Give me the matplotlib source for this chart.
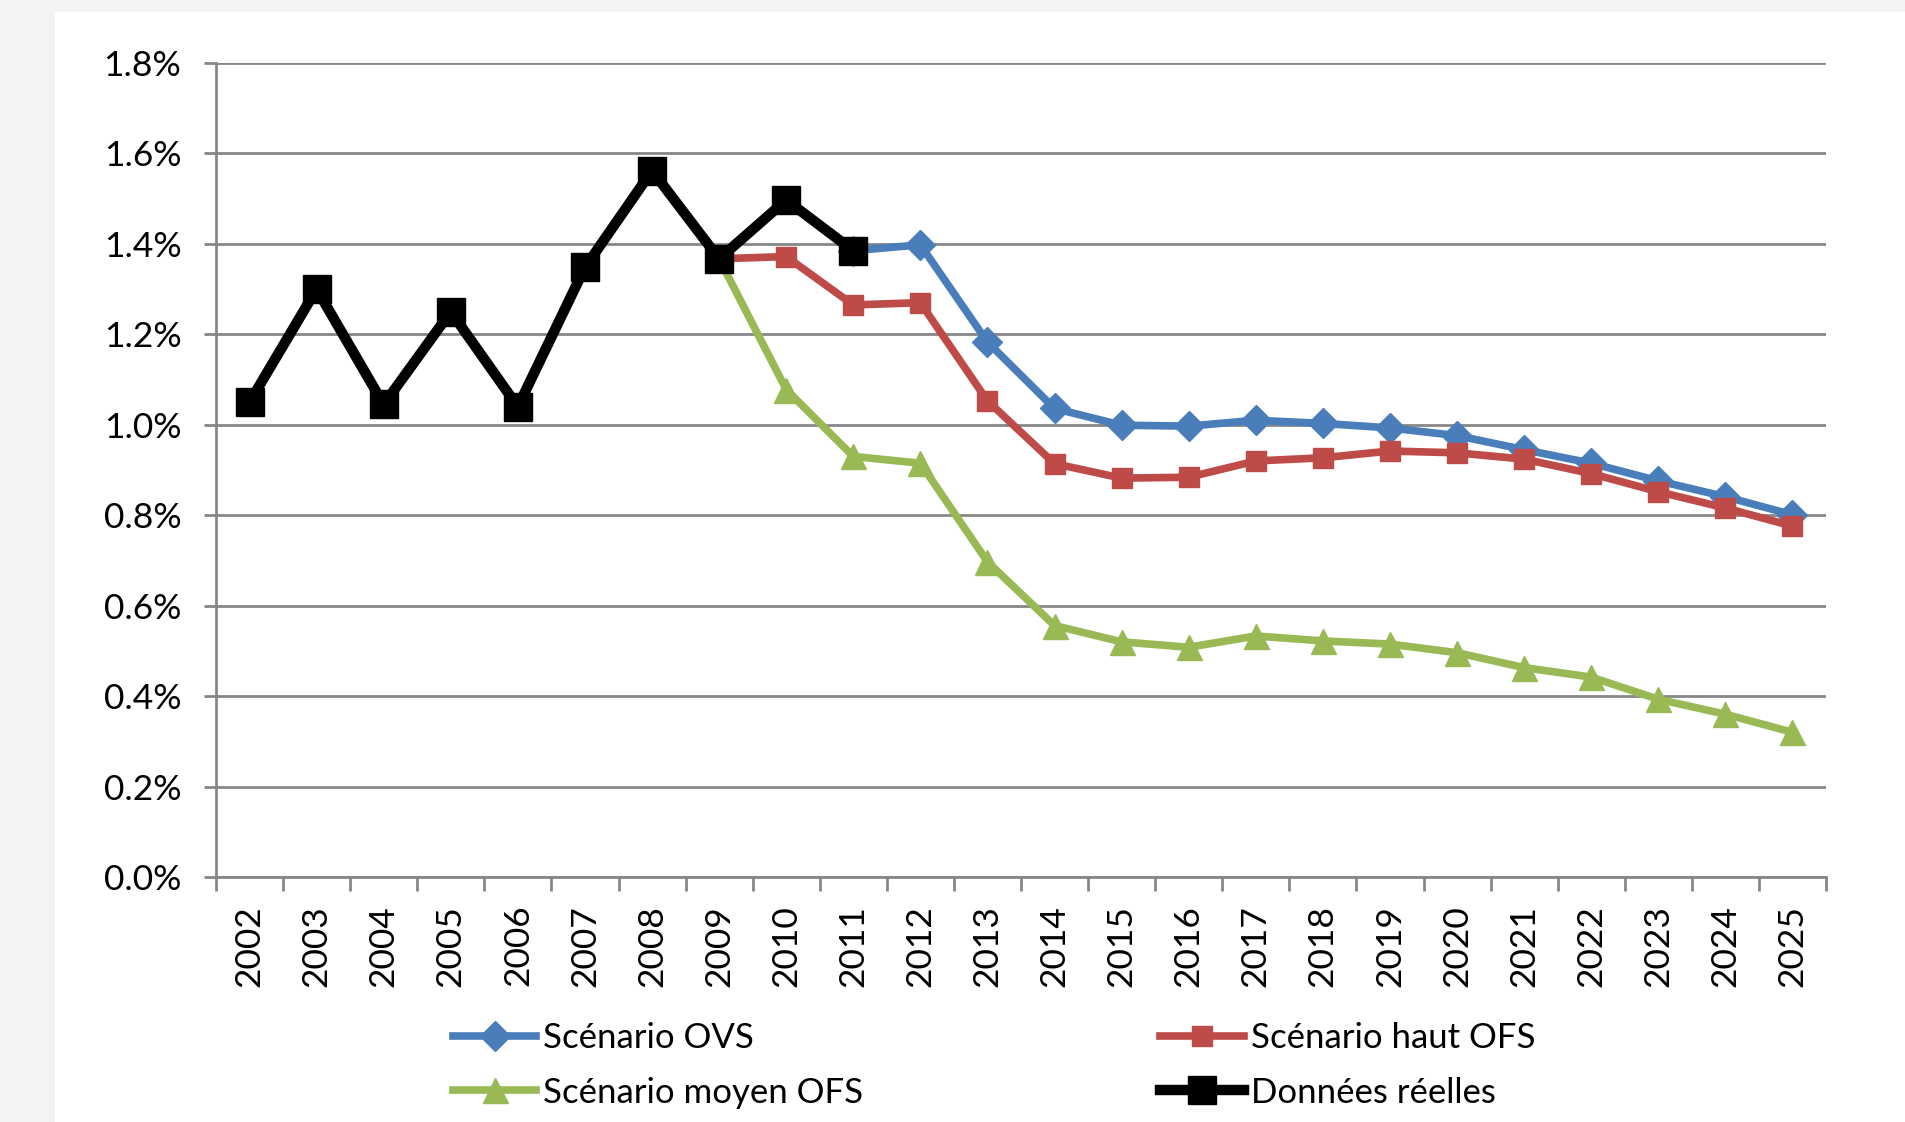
import matplotlib
matplotlib.use("Agg")
import matplotlib.pyplot as plt
from matplotlib.patches import Rectangle
from matplotlib.ticker import FuncFormatter

plt.rcParams['font.family'] = ['Lato', 'DejaVu Sans']

years = [str(y) for y in range(2002, 2026)]

# values in %, each series starts at its own year
reel = [1.05, 1.30, 1.045, 1.25, 1.04, 1.348, 1.562, 1.367, 1.497, 1.385]
ovs = [1.385, 1.398, 1.183, 1.036, 0.999, 0.997, 1.01, 1.003, 0.993, 0.976,
       0.945, 0.915, 0.876, 0.841, 0.801]
haut = [1.367, 1.372, 1.265, 1.27, 1.053, 0.914, 0.882, 0.884, 0.92, 0.927,
        0.942, 0.938, 0.924, 0.892, 0.852, 0.816, 0.776]
moyen = [1.367, 1.078, 0.93, 0.915, 0.697, 0.556, 0.52, 0.508, 0.533, 0.522,
         0.515, 0.496, 0.463, 0.442, 0.393, 0.36, 0.32]

start_reel = 0      # 2002
start_ovs = 9       # 2011
start_haut = 7      # 2009
start_moyen = 7     # 2009

blue = '#4a7ebb'
red = '#be4b48'
green = '#98b954'
grid_col = '#878787'

fig = plt.figure(figsize=(19.05, 11.22), dpi=100, facecolor='#f3f3f3')
fig.patches.append(Rectangle((55 / 1905, 0), 1, (1122 - 12) / 1122,
                             transform=fig.transFigure, facecolor='white',
                             edgecolor='none', zorder=-10))

ax = fig.add_axes([216 / 1905, (1122 - 877) / 1122, 1610 / 1905, 814 / 1122])
ax.set_facecolor('white')
ax.set_zorder(1)

x_ovs = list(range(start_ovs, start_ovs + len(ovs)))
x_haut = list(range(start_haut, start_haut + len(haut)))
x_moyen = list(range(start_moyen, start_moyen + len(moyen)))
x_reel = list(range(start_reel, start_reel + len(reel)))

l1, = ax.plot(x_ovs, ovs, color=blue, lw=5.5, marker='D', ms=15,
              label='Scénario OVS', zorder=3)
l2, = ax.plot(x_haut, haut, color=red, lw=5.5, marker='s', ms=15,
              label='Scénario haut OFS', zorder=4)
l3, = ax.plot(x_moyen, moyen, color=green, lw=5.5, marker='^', ms=18,
              label='Scénario moyen OFS', zorder=5)
l4, = ax.plot(x_reel, reel, color='black', lw=7.5, marker='s', ms=20,
              label='Données réelles', zorder=6)

ax.set_xlim(-0.5, len(years) - 0.5)
ax.set_ylim(0, 1.8)
ax.set_yticks([i * 0.2 for i in range(10)])
ax.yaxis.set_major_formatter(FuncFormatter(lambda v, p: f'{v:.1f}%'))
ax.grid(axis='y', color=grid_col, lw=2)
ax.set_axisbelow(True)

ax.set_xticks(range(len(years)))
ax.set_xticklabels(years, rotation=90)
ax.set_xticks([i - 0.5 for i in range(len(years) + 1)], minor=True)
ax.tick_params(axis='x', which='major', length=0, pad=20, labelsize=25.5)
ax.tick_params(axis='x', which='minor', length=10, width=2, color=grid_col)
ax.tick_params(axis='y', length=9, width=2, color=grid_col, pad=16, labelsize=25.5)

for s in ['top', 'right']:
    ax.spines[s].set_visible(False)
for s in ['left', 'bottom']:
    ax.spines[s].set_color(grid_col)
    ax.spines[s].set_linewidth(2)

fig.legend(handles=[l1, l3, l2, l4], ncol=2, frameon=False,
           loc='upper left', bbox_to_anchor=(453 / 1905, (1122 - 1022) / 1122),
           borderpad=0, borderaxespad=0, fontsize=25, handlelength=2.4,
           handletextpad=0.2, columnspacing=8.55, labelspacing=0.65)

fig.savefig('out.png', dpi=100, facecolor=fig.get_facecolor())
